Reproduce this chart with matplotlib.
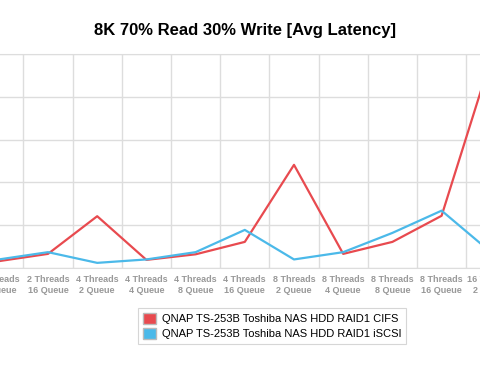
import numpy as np
import matplotlib
matplotlib.use("Agg")
import matplotlib.pyplot as plt
from matplotlib.patches import Patch

plt.rcParams["font.family"] = ["Liberation Sans", "DejaVu Sans"]

# categories visible in the (cropped) chart
labels = ["2 Threads\n8 Queue", "2 Threads\n16 Queue",
          "4 Threads\n2 Queue", "4 Threads\n4 Queue", "4 Threads\n8 Queue", "4 Threads\n16 Queue",
          "8 Threads\n2 Queue", "8 Threads\n4 Queue", "8 Threads\n8 Queue", "8 Threads\n16 Queue",
          "16 Threads\n2 Queue"]

# avg latency (ms)
cifs = [3.2, 6.6, 24.2, 3.8, 6.4, 12.2, 48.2, 6.6, 12.2, 24.4, 97.5]
iscsi = [4.0, 7.4, 2.4, 4.0, 7.4, 17.8, 4.0, 7.4, 16.4, 26.8, 7.4]

red = "#e84a4f"
blue = "#4bb9e9"

fig = plt.figure(figsize=(4.8, 3.68), dpi=100)
# plot area is wider than the picture: the reference is a crop of a wider chart
ax = fig.add_axes([-25.8 / 480, 100 / 368, 541.2 / 480, 214 / 368])

x = np.arange(len(labels))
ax.plot(x, cifs, color=red, lw=1.6, label="QNAP TS-253B Toshiba NAS HDD RAID1 CIFS")
ax.plot(x, iscsi, color=blue, lw=1.6, label="QNAP TS-253B Toshiba NAS HDD RAID1 iSCSI")

ax.set_xlim(-0.5, len(labels) - 0.5)
ax.set_ylim(0, 100)
ax.set_yticks([0, 20, 40, 60, 80, 100])
ax.set_yticklabels([])
ax.set_xticks(x)
ax.set_xticklabels(labels, fontsize=6.5, color="#999999", fontweight="bold", linespacing=1.25)
ax.set_xticks(x[:-1] + 0.5, minor=True)
ax.tick_params(axis="both", which="both", length=0, pad=5)
ax.grid(True, which="minor", axis="x", color="#dddddd", lw=1)
ax.grid(True, which="major", axis="y", color="#dddddd", lw=1)
ax.grid(False, which="major", axis="x")
ax.set_axisbelow(True)
for s in ["left", "right"]:
    ax.spines[s].set_visible(False)
ax.spines["top"].set_color("#dddddd")
ax.spines["bottom"].set_color("#dddddd")

fig.text(245 / 480, 1 - 30 / 368, "8K 70% Read 30% Write [Avg Latency]",
         ha="center", va="center", fontsize=12, fontweight="bold")

handles = [Patch(facecolor=red, edgecolor="#bbbbbb", label="QNAP TS-253B Toshiba NAS HDD RAID1 CIFS"),
           Patch(facecolor=blue, edgecolor="#bbbbbb", label="QNAP TS-253B Toshiba NAS HDD RAID1 iSCSI")]
leg = fig.legend(handles=handles, loc="center", bbox_to_anchor=(272 / 480, 1 - 326 / 368),
                 fontsize=8, frameon=True, fancybox=False, handlelength=1.2, handleheight=1.2,
                 handletextpad=0.5, labelspacing=0.3, borderpad=0.4)
leg.get_frame().set_edgecolor("#cccccc")
leg.get_frame().set_linewidth(0.8)

fig.savefig("out.png", dpi=100)
